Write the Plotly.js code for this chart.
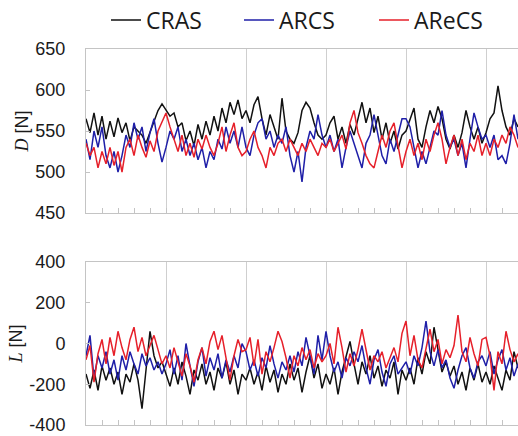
<!DOCTYPE html>
<html>
<head>
<meta charset="utf-8">
<script src="https://cdn.plot.ly/plotly-3.0.1.min.js"></script>
<style>html,body{margin:0;padding:0;background:#fff;}#chart{width:518px;height:436px;}</style>
</head>
<body>
<div id="chart"></div>
<script>
// sampling step of the time axis (one major grid interval = 1.0)
var dt = 0.05;
var seriesNames = ["CRAS", "ARCS", "AReCS"];
var yTicksD = [450, 500, 550, 600, 650];
var yTicksL = [-400, -200, 0, 200, 400];

// Drag D [N]
var D_CRAS = [565,548,572,545,568,540,562,543,566,548,560,538,555,550,545,535,548,560,575,583,
  575,568,572,555,560,538,550,532,558,540,562,545,568,550,578,560,585,570,588,565,
  575,560,582,592,565,545,570,555,540,590,550,540,535,548,575,585,578,560,545,540,
  545,560,568,540,555,535,558,545,565,585,560,578,548,568,540,560,535,550,528,545,
  550,565,578,540,530,555,575,560,580,565,540,528,545,530,548,575,555,540,555,535,
  548,565,572,605,575,555,545,565,555];
var D_ARCS = [540,515,550,530,555,520,505,525,500,520,545,530,560,540,555,525,548,565,535,512,
  530,550,540,555,525,540,520,535,515,530,505,525,515,540,528,555,535,550,530,555,
  530,520,545,560,565,540,550,530,545,535,555,520,500,525,488,530,550,540,570,545,
  530,545,525,540,505,530,550,535,520,505,535,545,570,545,520,510,540,525,545,565,
  565,555,530,505,525,510,530,550,545,575,545,530,540,520,535,505,540,572,555,540,
  545,530,545,515,520,510,535,570,540];
var D_AReCS = [535,520,530,505,525,510,530,508,525,500,530,540,520,545,530,518,538,525,550,560,
  572,555,540,525,545,520,535,518,540,528,545,530,520,535,555,525,545,560,530,520,
  525,540,550,530,520,505,530,520,535,540,525,540,530,520,535,525,540,530,520,535,
  530,540,525,535,545,528,560,575,548,535,520,510,505,525,545,530,550,560,530,505,
  525,540,520,535,515,540,525,545,560,540,510,530,545,520,540,515,535,525,545,520,
  535,520,540,530,545,535,555,545,530];

// Lift L [N]
var L_CRAS = [-150,-220,-130,-230,-110,-180,-120,-200,-140,-250,-150,-190,-100,-180,-320,-130,60,-60,-120,-90,
  -150,-210,-120,-200,-90,-160,-250,-130,-180,-100,-200,-140,-230,-120,-170,-90,-200,-130,-250,-150,
  -180,-120,-200,-140,-230,-110,-190,-130,-240,-150,-200,-100,-180,-120,-240,-140,-60,-170,-100,-220,
  -150,-200,-120,-250,-140,-60,10,-100,-200,-90,-150,-60,-170,-110,-210,-130,-170,-90,-250,-130,
  -180,-120,-200,-70,-150,-40,-100,80,-30,-140,-90,-160,-110,-200,-140,-230,-120,-180,-100,-190,
  -140,-200,-110,-170,-230,-130,-180,-40,-120];
var L_ARCS = [-60,40,-170,-60,-120,-40,-150,-80,-180,-60,-130,-40,-100,-150,-50,-110,-70,-130,-90,-150,
  -100,-30,-150,-60,-180,0,-110,-210,-90,-20,-160,-70,-130,-50,-170,-80,-140,-60,-120,0,
  -40,-130,-80,-160,-70,-120,-10,-100,-170,-90,-130,-60,-140,-40,-110,30,-60,-150,40,-80,
  60,-60,-140,-90,-170,-70,-110,-40,-90,-10,-120,-200,-80,-30,-140,-210,-100,-60,-150,-120,
  -90,-150,-60,-110,-20,110,-40,-110,-30,-120,-80,-170,-220,-130,-60,-20,-120,-170,-90,-60,
  -110,-40,-150,-80,-30,-130,-70,-160,-100];
var L_AReCS = [-80,-10,-190,-50,20,-100,30,-60,60,-20,-80,20,80,-40,30,-60,-10,40,-30,-100,
  -60,-120,-20,-90,-160,-50,-110,-190,-80,-20,-100,10,60,-30,40,-70,-180,-60,20,-40,
  -30,30,-110,20,-150,-40,-90,-20,60,10,-70,-170,-60,-110,-20,-80,-30,-120,-50,-90,
  -60,0,-100,80,-20,-140,-50,-110,-30,70,-40,-130,-60,-90,-40,-120,-70,-20,-90,50,
  110,-60,40,-80,-120,-20,70,-40,20,-100,-30,-70,-10,140,-40,-90,30,-50,-110,20,
  30,-60,-230,-40,-100,60,-30,-90,-50];

function times(arr){ var t=[]; for(var i=0;i<arr.length;i++){ t.push(Math.round(i*dt*1000)/1000); } return t; }

var colors = ["#111111", "#1f1fa8", "#e6202a"];
var legendIds = ["legend", "legend2", "legend3"];
var Dser = [D_CRAS, D_ARCS, D_AReCS];
var Lser = [L_CRAS, L_ARCS, L_AReCS];
var traces = [];
for (var k=0;k<3;k++){
  traces.push({x: times(Dser[k]), y: Dser[k], type:'scatter', mode:'lines', name: seriesNames[k],
    line:{color:colors[k], width:1.5}, xaxis:'x', yaxis:'y', legend: legendIds[k]});
}
for (var k=0;k<3;k++){
  traces.push({x: times(Lser[k]), y: Lser[k], type:'scatter', mode:'lines', name: seriesNames[k],
    line:{color:colors[k], width:1.5}, xaxis:'x2', yaxis:'y2', showlegend:false});
}

var axisGray = '#c4c4c4';
var tickFont = {family:'Liberation Sans, Arial, sans-serif', size:18, color:'#1a1a1a'};
function xax(anchor){
  return {range:[0,5.4], dtick:1, tick0:0, showgrid:true, gridcolor:'#cfcfcf', gridwidth:1,
    showline:true, linecolor:axisGray, linewidth:1, mirror:true, ticks:'inside', ticklen:5, tickcolor:axisGray,
    showticklabels:false, zeroline:false, anchor:anchor,
    minor:{dtick:0.2, ticks:'inside', ticklen:5, tickcolor:axisGray, showgrid:false}};
}
function yax(range, ticks, title, dom, anchor){
  return {range:range, tickvals:ticks, ticktext:ticks.map(String), showgrid:false, zeroline:false,
    showline:true, linecolor:axisGray, linewidth:1, ticks:'inside', ticklen:4, tickcolor:axisGray,
    tickfont:tickFont, ticklabelstandoff:16, domain:dom, anchor:anchor,
    title:{text:title, font:{family:'Liberation Sans, Arial, sans-serif', size:18, color:'#1a1a1a'}, standoff:2}};
}
function leg(xpx){
  return {orientation:'h', xref:'container', yref:'container', x:xpx/518, y:0.954, xanchor:'left', yanchor:'middle',
    font:{family:'Open Sans, sans-serif', size:23, color:'#1a1a1a'},
    bgcolor:'rgba(0,0,0,0)', borderwidth:0};
}

var layout = {
  width:518, height:436,
  margin:{l:86, r:0, t:0, b:11, pad:0, autoexpand:false},
  paper_bgcolor:'#fff', plot_bgcolor:'#fff',
  showlegend:true,
  legend: leg(106),
  legend2: leg(239),
  legend3: leg(374),
  xaxis: xax('y'),
  yaxis: yax([450,650], yTicksD, '<span style="font-family:Liberation Serif,serif;font-style:italic">D</span> [N]', [0.4988,0.8847], 'x'),
  xaxis2: xax('y2'),
  yaxis2: yax([-400,400], yTicksL, '<span style="font-family:Liberation Serif,serif;font-style:italic">L</span> [N]', [0,0.3835], 'x2')
};

Plotly.newPlot('chart', traces, layout, {displayModeBar:false, staticPlot:true});
</script>
</body>
</html>
